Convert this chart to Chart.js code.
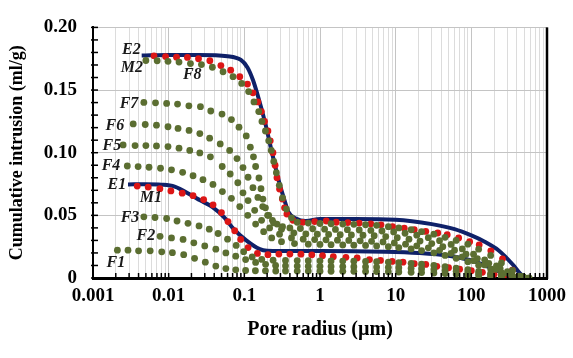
<!DOCTYPE html>
<html>
<head>
<meta charset="utf-8">
<script src="https://cdn.jsdelivr.net/npm/chart.js@4.4.1/dist/chart.umd.min.js"></script>
<style>
  html, body { margin: 0; padding: 0; background: #ffffff; }
  #wrap { width: 573px; height: 358px; position: relative; }
</style>
</head>
<body>
<div id="wrap"><canvas id="poreChart"></canvas></div>
<script>
// Pore radius (um) and cumulative intrusion (ml/g)
const e2Radius = [0.0044, 0.01, 0.025, 0.06, 0.09, 0.11, 0.13, 0.15, 0.19, 0.23, 0.29, 0.34, 0.38, 0.48, 0.65, 1, 3, 10, 30, 60, 100, 150, 230, 350, 450, 520];
const e2Value  = [0.1775, 0.178, 0.178, 0.177, 0.174, 0.168, 0.158, 0.146, 0.123, 0.101, 0.076, 0.062, 0.053, 0.0475, 0.0455, 0.047, 0.047, 0.0465, 0.043, 0.039, 0.034, 0.029, 0.022, 0.011, 0.003, 0];

const e1Radius = [0.0029, 0.005, 0.008, 0.012, 0.02, 0.026, 0.038, 0.055, 0.07, 0.106, 0.16, 0.2, 0.3, 1, 7, 20, 50, 100, 200, 300, 350];
const e1Value  = [0.0747, 0.0748, 0.0745, 0.073, 0.066, 0.062, 0.0566, 0.048, 0.040, 0.030, 0.023, 0.0217, 0.0215, 0.0215, 0.021, 0.020, 0.0178, 0.014, 0.007, 0.002, 0];

const m2Radius = [0.0064, 0.0091, 0.0127, 0.0177, 0.0248, 0.035, 0.049, 0.066, 0.087, 0.11, 0.13, 0.151, 0.168, 0.185, 0.205, 0.22, 0.239, 0.255, 0.27, 0.292, 0.318, 0.34, 0.365, 0.44, 0.59, 0.85, 1.21, 1.64, 2.33, 3.3, 4.7, 6.4, 9.1, 13, 17.6, 25, 36, 48, 68, 95, 127, 181, 258, 349, 428];
const m2Value  = [0.1773, 0.1767, 0.1762, 0.176, 0.175, 0.1734, 0.1695, 0.1659, 0.1607, 0.1548, 0.1478, 0.1405, 0.1328, 0.125, 0.1173, 0.1095, 0.100, 0.090, 0.080, 0.071, 0.063, 0.056, 0.051, 0.046, 0.0444, 0.045, 0.0455, 0.0445, 0.0442, 0.0438, 0.0432, 0.0424, 0.041, 0.0398, 0.0385, 0.0372, 0.0359, 0.0346, 0.032, 0.029, 0.0265, 0.0217, 0.0153, 0.0062, 0.001];

const m1Radius = [0.00384, 0.00536, 0.00765, 0.0107, 0.0151, 0.021, 0.029, 0.0386, 0.0498, 0.0608, 0.0746, 0.0895, 0.112, 0.149, 0.205, 0.286, 0.4, 0.56, 0.78, 1.08, 1.5, 2.2, 3.1, 4.5, 6.3, 9, 12.5, 17.6, 25, 35, 50, 70, 100, 140, 200, 280, 380];
const m1Value  = [0.0734, 0.0726, 0.0713, 0.0695, 0.0677, 0.0657, 0.0626, 0.0584, 0.0522, 0.045, 0.0377, 0.0308, 0.0243, 0.0196, 0.0186, 0.0191, 0.0191, 0.019, 0.0185, 0.0178, 0.017, 0.0165, 0.016, 0.0147, 0.014, 0.0132, 0.0126, 0.0114, 0.0108, 0.0093, 0.0082, 0.007, 0.0058, 0.0045, 0.003, 0.0015, 0.0003];

const f8Radius = [0.005, 0.00705, 0.0098, 0.0137, 0.0194, 0.0271, 0.0378, 0.0523, 0.0709, 0.0923, 0.114, 0.134, 0.155, 0.171, 0.19, 0.21, 0.227, 0.245, 0.265, 0.29, 0.32, 0.36, 0.42, 0.5, 0.7, 1, 1.4, 2, 2.8, 4, 5.6, 8, 11, 16, 22, 32, 45, 63, 90, 125, 180, 250, 350, 480];
const f8Value  = [0.1736, 0.1734, 0.1729, 0.1723, 0.1711, 0.1703, 0.1682, 0.1646, 0.1607, 0.1553, 0.1488, 0.1405, 0.1328, 0.125, 0.1173, 0.1095, 0.1018, 0.093, 0.084, 0.074, 0.064, 0.055, 0.048, 0.0445, 0.0438, 0.0435, 0.0433, 0.043, 0.0428, 0.0425, 0.042, 0.041, 0.040, 0.0385, 0.037, 0.035, 0.0325, 0.030, 0.027, 0.023, 0.018, 0.012, 0.006, 0.001];

const f7Radius = [0.0047, 0.0067, 0.0094, 0.0131, 0.0185, 0.0263, 0.036, 0.0507, 0.0675, 0.085, 0.106, 0.12, 0.132, 0.141, 0.156, 0.166, 0.176, 0.19, 0.21, 0.235, 0.27, 0.32, 0.4, 0.55, 0.8, 1.15, 1.6, 2.3, 3.3, 4.7, 6.6, 9.4, 13.3, 19, 27, 38, 54, 76, 107, 150, 215, 300, 430];
const f7Value  = [0.1401, 0.1398, 0.1393, 0.1388, 0.1374, 0.1367, 0.1333, 0.1308, 0.1264, 0.1204, 0.1134, 0.1044, 0.0967, 0.089, 0.0798, 0.0713, 0.063, 0.056, 0.050, 0.046, 0.043, 0.041, 0.040, 0.0395, 0.0393, 0.039, 0.0388, 0.0386, 0.0383, 0.038, 0.0375, 0.0368, 0.0357, 0.0342, 0.0322, 0.0298, 0.0268, 0.0232, 0.019, 0.0145, 0.0097, 0.005, 0.0015];

const f6Radius = [0.0034, 0.0049, 0.0069, 0.0098, 0.0133, 0.0186, 0.0258, 0.0348, 0.048, 0.064, 0.080, 0.096, 0.112, 0.130, 0.151, 0.175, 0.203, 0.243, 0.31, 0.45, 0.65, 0.92, 1.3, 1.85, 2.6, 3.7, 5.2, 7.4, 10.5, 15, 21, 30, 42, 60, 85, 120, 170, 240, 340, 480];
const f6Value  = [0.123, 0.1225, 0.122, 0.1207, 0.1194, 0.1178, 0.1153, 0.1116, 0.107, 0.1018, 0.0953, 0.0881, 0.0804, 0.0721, 0.0643, 0.057, 0.050, 0.044, 0.039, 0.036, 0.0352, 0.035, 0.0348, 0.0346, 0.0344, 0.0341, 0.0337, 0.0331, 0.0322, 0.031, 0.0295, 0.0275, 0.025, 0.0222, 0.019, 0.0155, 0.0117, 0.0077, 0.0038, 0.0008];

const f5Radius = [0.0025, 0.0036, 0.005, 0.0069, 0.0098, 0.0137, 0.019, 0.0258, 0.0356, 0.051, 0.065, 0.082, 0.096, 0.112, 0.137, 0.169, 0.216, 0.292, 0.42, 0.6, 0.85, 1.2, 1.7, 2.4, 3.4, 4.8, 6.8, 9.6, 13.5, 19, 27, 38, 54, 76, 107, 150, 210, 300, 420, 580];
const f5Value  = [0.1062, 0.1057, 0.1057, 0.1054, 0.1049, 0.1036, 0.1018, 0.0998, 0.0967, 0.089, 0.083, 0.076, 0.068, 0.0618, 0.054, 0.046, 0.040, 0.035, 0.032, 0.031, 0.0307, 0.0305, 0.0302, 0.030, 0.0297, 0.0293, 0.0288, 0.028, 0.027, 0.0257, 0.0241, 0.0221, 0.0197, 0.0169, 0.0138, 0.0104, 0.007, 0.0037, 0.0012, 0];

const f4Radius = [0.00284, 0.00395, 0.0055, 0.0078, 0.0109, 0.0153, 0.021, 0.0284, 0.0385, 0.0513, 0.0675, 0.087, 0.111, 0.141, 0.18, 0.23, 0.31, 0.46, 0.7, 1, 1.4, 2, 2.8, 4, 5.6, 8, 11, 16, 22, 32, 45, 63, 90, 125, 180, 250, 350, 500];
const f4Value  = [0.0894, 0.0889, 0.0884, 0.0876, 0.0863, 0.0843, 0.0816, 0.0785, 0.0747, 0.069, 0.0636, 0.057, 0.050, 0.043, 0.037, 0.032, 0.029, 0.0275, 0.027, 0.0268, 0.0266, 0.0264, 0.0262, 0.026, 0.0256, 0.025, 0.0243, 0.0232, 0.0219, 0.0201, 0.018, 0.0157, 0.013, 0.0102, 0.0072, 0.0043, 0.0017, 0.0002];

const f3Radius = [0.0047, 0.0066, 0.0094, 0.0129, 0.018, 0.0252, 0.0344, 0.045, 0.06, 0.078, 0.098, 0.127, 0.17, 0.24, 0.35, 0.5, 0.7, 1, 1.4, 2, 2.8, 4, 5.6, 8, 11, 16, 22, 32, 45, 63, 90, 125, 180, 250, 350, 500];
const f3Value  = [0.0488, 0.0483, 0.0475, 0.0455, 0.0436, 0.0416, 0.039, 0.0355, 0.031, 0.026, 0.021, 0.0168, 0.0148, 0.0142, 0.014, 0.0139, 0.0138, 0.0137, 0.0136, 0.0135, 0.0134, 0.0132, 0.013, 0.0127, 0.0123, 0.0117, 0.011, 0.0101, 0.0091, 0.0079, 0.0066, 0.0052, 0.0037, 0.0022, 0.0009, 0.0001];

const f2Radius = [0.0077, 0.0109, 0.0155, 0.0215, 0.030, 0.042, 0.057, 0.077, 0.104, 0.141, 0.191, 0.259, 0.35, 0.5, 0.7, 1, 1.4, 2, 2.8, 4, 5.6, 8, 11, 16, 22, 32, 45, 63, 90, 125, 180, 250, 350, 500];
const f2Value  = [0.0333, 0.032, 0.0308, 0.0281, 0.0256, 0.023, 0.020, 0.0174, 0.0147, 0.0124, 0.0109, 0.0100, 0.0097, 0.0095, 0.0094, 0.0093, 0.0092, 0.0091, 0.009, 0.0089, 0.0087, 0.0085, 0.0082, 0.0078, 0.0074, 0.0068, 0.0061, 0.0053, 0.0044, 0.0035, 0.0025, 0.0015, 0.0006, 0];

const f1Radius = [0.0021, 0.0029, 0.004, 0.0057, 0.0081, 0.0112, 0.0158, 0.022, 0.0305, 0.042, 0.057, 0.077, 0.104, 0.14, 0.19, 0.26, 0.35, 0.5, 0.7, 1, 1.4, 2, 2.8, 4, 5.6, 8, 11, 16, 22, 32, 45, 63, 90, 125, 180, 250, 350, 500];
const f1Value  = [0.0222, 0.0222, 0.0217, 0.0217, 0.0209, 0.0202, 0.0186, 0.0157, 0.0126, 0.0095, 0.0075, 0.0065, 0.006, 0.0058, 0.0057, 0.0056, 0.0056, 0.0055, 0.0055, 0.0054, 0.0054, 0.0053, 0.0053, 0.0052, 0.0051, 0.005, 0.0048, 0.0046, 0.0043, 0.004, 0.0036, 0.0031, 0.0026, 0.002, 0.0014, 0.0008, 0.0003, 0];

// Axis ticks
const xDecades = [0.001, 0.01, 0.1, 1, 10, 100, 1000];
const xTickLabels = ['0.001', '0.01', '0.1', '1', '10', '100', '1000'];
const yTickValues = [0, 0.05, 0.10, 0.15, 0.20];
const yTickLabels = ['0', '0.05', '0.10', '0.15', '0.20'];

// Curve labels: text, radius, intrusion
const curveLabels = [
  ['E2', 0.00322, 0.182], ['M2', 0.00327, 0.168], ['F8', 0.0205, 0.162],
  ['F7', 0.00299, 0.139], ['F6', 0.00195, 0.1217], ['F5', 0.00178, 0.1054],
  ['F4', 0.00173, 0.0891], ['E1', 0.00207, 0.0744], ['M1', 0.00582, 0.0643],
  ['F3', 0.00308, 0.048], ['F2', 0.005, 0.0333], ['F1', 0.00201, 0.0124]
];

const NAVY = "#0f2169";
const RED = "#dc1616";
const OLIVE = "#5b6e31";
const SERIF = "'Times New Roman', 'Liberation Serif', serif";

Chart.defaults.font.family = SERIF;
Chart.defaults.color = "#000000";

function pts(radius, value) {
  return radius.map((r, i) => ({ x: r, y: value[i] }));
}

function dots(label, radius, value, color) {
  return {
    label: label,
    data: pts(radius, value),
    showLine: false,
    pointRadius: 3.4,
    pointBorderWidth: 0,
    pointBackgroundColor: color,
    pointBorderColor: color
  };
}

function curve(label, radius, value) {
  return {
    label: label,
    data: pts(radius, value),
    showLine: true,
    borderColor: NAVY,
    borderWidth: 4,
    pointRadius: 0,
    cubicInterpolationMode: 'monotone',
    fill: false
  };
}

const isDecade = v => xDecades.some(d => Math.abs(v / d - 1) < 1e-6);

// curve labels, inner tick marks and right frame
const extras = {
  id: 'extras',
  afterDatasetsDraw(chart) {
    const { ctx, scales: { x, y }, chartArea } = chart;
    ctx.save();
    ctx.font = "italic bold 16px " + SERIF;
    ctx.fillStyle = "#1a1a1a";
    ctx.textAlign = "center";
    ctx.textBaseline = "middle";
    curveLabels.forEach(([t, r, v]) => {
      ctx.fillText(t, x.getPixelForValue(r), y.getPixelForValue(v));
    });

    ctx.strokeStyle = "#000000";
    ctx.lineWidth = 1.5;
    x.ticks.forEach(t => {
      const px = x.getPixelForValue(t.value);
      ctx.beginPath();
      ctx.moveTo(px, chartArea.bottom);
      ctx.lineTo(px, chartArea.bottom - 5);
      ctx.stroke();
    });
    y.ticks.forEach(t => {
      const py = y.getPixelForValue(t.value);
      ctx.beginPath();
      ctx.moveTo(chartArea.left - 2, py);
      ctx.lineTo(chartArea.left + 5, py);
      ctx.stroke();
    });

    ctx.lineWidth = 2.5;
    ctx.beginPath();
    ctx.moveTo(chartArea.right, chartArea.top);
    ctx.lineTo(chartArea.right, chartArea.bottom + 1);
    ctx.stroke();
    ctx.restore();
  }
};

new Chart(document.getElementById("poreChart"), {
  type: "scatter",
  data: {
    datasets: [
      dots("F1", f1Radius, f1Value, OLIVE),
      dots("F2", f2Radius, f2Value, OLIVE),
      dots("F3", f3Radius, f3Value, OLIVE),
      dots("F4", f4Radius, f4Value, OLIVE),
      dots("F5", f5Radius, f5Value, OLIVE),
      dots("F6", f6Radius, f6Value, OLIVE),
      dots("F7", f7Radius, f7Value, OLIVE),
      dots("F8", f8Radius, f8Value, OLIVE),
      dots("M1", m1Radius, m1Value, RED),
      dots("M2", m2Radius, m2Value, RED),
      curve("E1", e1Radius, e1Value),
      curve("E2", e2Radius, e2Value)
    ]
  },
  options: {
    responsive: true,
    maintainAspectRatio: false,
    devicePixelRatio: 1,
    animation: false,
    layout: { padding: { left: 0, right: 25, top: 20, bottom: 0 } },
    plugins: {
      legend: { display: false },
      tooltip: { enabled: false }
    },
    scales: {
      x: {
        type: "logarithmic",
        min: 0.001,
        max: 1000,
        afterBuildTicks: (scale) => {
          const list = [];
          xDecades.forEach((d, i) => {
            if (i === xDecades.length - 1) { list.push({ value: d }); return; }
            for (let k = 1; k <= 9; k++) list.push({ value: d * k });
          });
          scale.ticks = list;
        },
        afterFit: (scale) => { scale.height = 80; },
        border: { color: "#000000", width: 3 },
        grid: {
          drawTicks: false,
          color: (c) => (c.tick && isDecade(c.tick.value)) ? "#c4c4c4" : "#dcdcdc",
          lineWidth: 1
        },
        ticks: {
          autoSkip: false,
          maxRotation: 0,
          padding: 7,
          font: { size: 19, weight: "bold" },
          callback: (v) => {
            const i = xDecades.findIndex(d => Math.abs(v / d - 1) < 1e-6);
            return i >= 0 ? xTickLabels[i] : "";
          }
        },
        title: {
          display: true,
          text: "Pore radius (µm)",
          font: { size: 20, weight: "bold" },
          padding: { top: 0, bottom: 16 }
        }
      },
      y: {
        min: 0,
        max: 0.2,
        afterFit: (scale) => { scale.width = 93; },
        border: { color: "#000000", width: 2 },
        grid: {
          drawTicks: false,
          color: (c) => {
            const v = c.tick ? c.tick.value : -1;
            return yTickValues.some(t => Math.abs(t - v) < 1e-6) ? "#c4c4c4" : "rgba(0,0,0,0)";
          },
          lineWidth: 1
        },
        ticks: {
          stepSize: 0.01,
          autoSkip: false,
          padding: 16,
          font: { size: 19, weight: "bold" },
          callback: (v) => {
            const i = yTickValues.findIndex(t => Math.abs(t - v) < 1e-6);
            return i >= 0 ? yTickLabels[i] : "";
          }
        },
        title: {
          display: true,
          text: "Cumulative intrusion (ml/g)",
          font: { size: 18, weight: "bold" },
          padding: { top: 7, bottom: 0 }
        }
      }
    }
  },
  plugins: [extras]
});
</script>
</body>
</html>
